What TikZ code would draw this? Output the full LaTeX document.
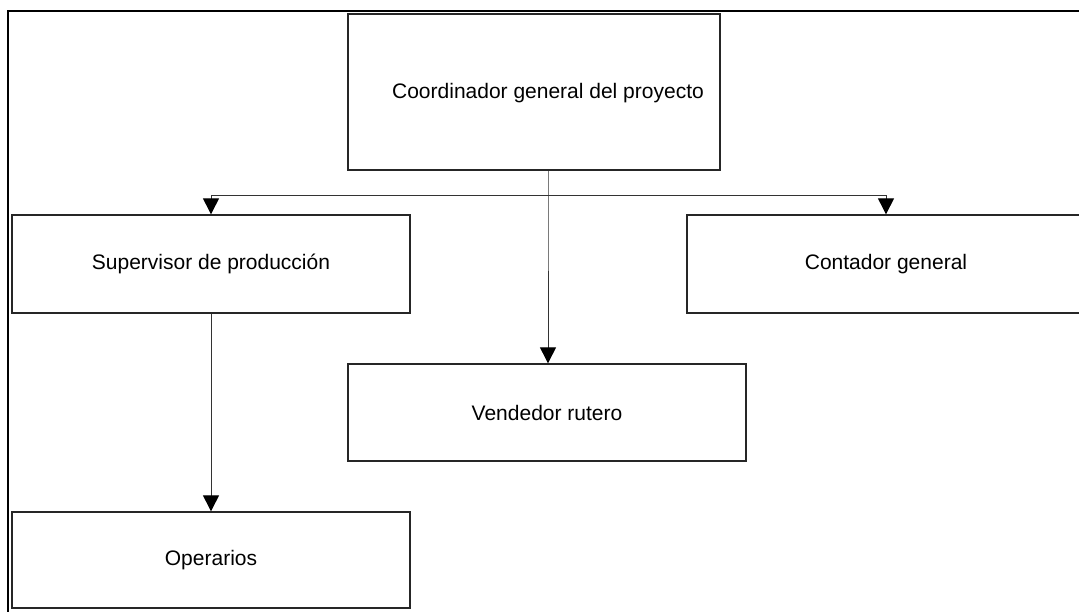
\documentclass[tikz,border=0pt]{standalone}
\usepackage{fontspec}
\setmainfont{Liberation Sans}
\usepackage{tikz}
\usetikzlibrary{calc}
\usetikzlibrary{arrows.meta}

\begin{document}
\begin{tikzpicture}[x=1pt,y=-1pt,
    box/.style={draw=black!85,line width=1.3pt,inner sep=0pt,font=\fontsize{21}{25}\selectfont},
    link/.style={draw=black!80,line width=1pt,-{Triangle[width=16pt,length=16pt,color=black]}}]
  % Constants
  \pgfmathsetmacro\w{398}
  \pgfmathsetmacro\h{98}
  % Boundary
  \path[use as bounding box] (0,0) rectangle (1079,612);
  % Frame
  \draw[line width=2.5pt] (8,640) -- (8,11) -- (1100,11);
  % Boxes
  \node[box,minimum width=372pt,minimum height=156pt] (coord) at (534,92) {};
  \node[box,draw=none] (coordtext) at (548,93) {Coordinador general del proyecto};
  \node[box,minimum width=\w pt,minimum height=\h pt] (sup) at (211,264) {Supervisor de producción};
  \node[box,minimum width=\w pt,minimum height=\h pt] (cont) at (886,264) {Contador general};
  \node[box,minimum width=\w pt,minimum height=97pt] (vend) at (547,412.5) {Vendedor rutero};
  \node[box,minimum width=\w pt,minimum height=96pt] (op) at (211,560) {Operarios};
  % Connectors
  \coordinate (bus) at (548,196);
  \draw[link] (coord.south -| bus) -- (bus) -- (bus |- vend.north);
  \draw[link] (bus) -| (sup.north);
  \draw[link] (bus) -| (cont.north);
  \draw[link] (sup.south) -- (op.north);
\end{tikzpicture}
\end{document}
